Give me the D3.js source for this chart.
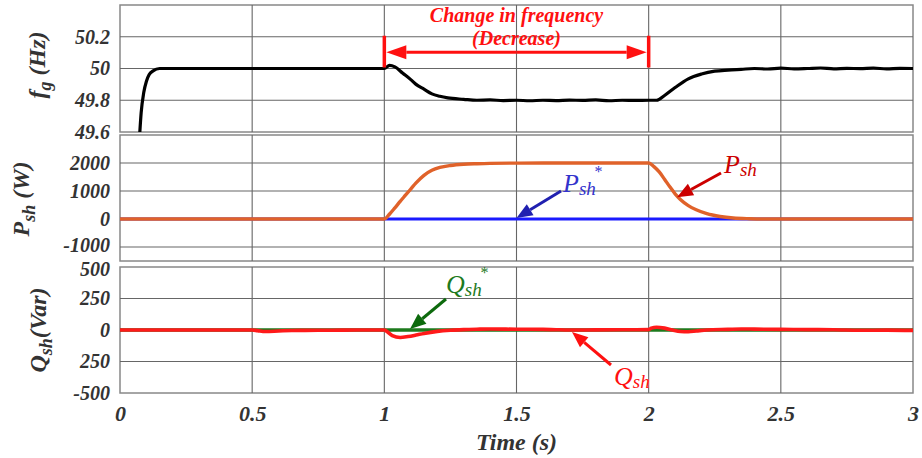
<!DOCTYPE html>
<html><head><meta charset="utf-8">
<script src="https://cdn.jsdelivr.net/npm/d3@7"></script>
<style>body{margin:0;background:#fff}svg{display:block}</style>
</head><body>
<svg id="c" width="922" height="458"></svg>
<script>
// ---------- data ----------
const timeTicks = [0, 0.5, 1, 1.5, 2, 2.5, 3];
const timeTickLabels = ["0", "0.5", "1", "1.5", "2", "2.5", "3"];
const freqTicks = [49.6, 49.8, 50, 50.2];
const freqTickLabels = ["49.6", "49.8", "50", "50.2"];
const powerTicks = [-1000, 0, 1000, 2000];
const powerTickLabels = ["-1000", "0", "1000", "2000"];
const qTicks = [-500, -250, 0, 250, 500];
const qTickLabels = ["-500", "250", "0", "250", "500"];

const freqT = [0.075,0.08,0.09,0.1,0.11,0.125,0.15,0.2,0.4,0.6,0.8,1.0,1.02,1.04,1.07,1.1,1.12,1.15,1.18,1.21,1.24,1.3,1.35,1.4,1.45,1.5,1.55,1.6,1.65,1.7,1.75,1.8,1.85,1.9,1.95,2.0,2.03,2.06,2.1,2.15,2.2,2.25,2.3,2.35,2.4,2.45,2.5,2.55,2.6,2.65,2.7,2.75,2.8,2.85,2.9,2.95,3.0];
const freqV = [49.6,49.72,49.85,49.92,49.96,49.985,50.0,50.0,50.0,50.0,50.0,50.0,50.02,50.01,49.97,49.93,49.9,49.87,49.84,49.825,49.815,49.806,49.8,49.802,49.798,49.8,49.797,49.8,49.798,49.801,49.799,49.802,49.797,49.8,49.799,49.8,49.8,49.83,49.88,49.935,49.965,49.983,49.99,49.995,50.0,49.997,50.002,49.998,50.0,50.003,49.998,50.001,49.999,50.002,49.998,50.001,50.0];

const pT = [0,1.0,1.02,1.04,1.06,1.08,1.1,1.12,1.15,1.18,1.21,1.25,1.3,1.35,1.4,1.5,1.6,1.8,2.0,2.02,2.04,2.06,2.08,2.1,2.12,2.15,2.18,2.22,2.27,2.32,2.38,2.45,3.0];
const pShV = [0,0,180,400,630,850,1070,1290,1560,1740,1840,1910,1955,1975,1988,1996,2000,2000,2000,1870,1680,1420,1150,900,700,480,330,190,90,35,10,0,0];
const pRefT = [0, 3];
const pRefV = [0, 0];

const qT = [0,0.5,0.52,0.55,0.6,0.65,0.7,0.8,0.9,1.0,1.01,1.03,1.06,1.09,1.12,1.15,1.2,1.25,1.3,1.35,1.4,1.5,1.6,1.65,1.7,1.8,1.9,2.0,2.01,2.03,2.06,2.09,2.12,2.15,2.18,2.22,2.3,2.35,2.4,2.5,2.6,2.7,2.8,2.9,3.0];
const qShV = [0,0,-5,-12,-8,-4,-3,-2,0,0,-12,-45,-60,-52,-40,-27,-11,-2,3,6,8,6,5,2,0,1,2,3,15,22,15,0,-12,-14,-8,0,5,8,7,5,3,2,-2,-1,-3];
const qRefT = [0, 3];
const qRefV = [0, 0];

// ---------- layout ----------
const svg = d3.select("#c");
const L = 120, R = 913;
const x = d3.scaleLinear().domain([0, 3]).range([L, R]);
const panels = [
  {domain:[49.6,50.4], top:5, bottom:132, ticks:freqTicks, labels:freqTickLabels},
  {domain:[-1500,3000], top:135, bottom:261, ticks:powerTicks, labels:powerTickLabels},
  {domain:[-500,500], top:267, bottom:393, ticks:qTicks, labels:qTickLabels}
];
panels.forEach(p => { p.y = d3.scaleLinear().domain(p.domain).range([p.bottom, p.top]); });

const serif = "Liberation Serif, Times New Roman, serif";
const tickColor = "#333";

panels.forEach((p, i) => {
  const g = svg.append("g");
  g.append("rect").attr("x", L).attr("y", p.top).attr("width", R - L).attr("height", p.bottom - p.top)
    .attr("fill", "#fff").attr("stroke", "#888").attr("stroke-width", 1.5);
  timeTicks.slice(1, -1).forEach(t => {
    g.append("line").attr("x1", x(t)).attr("x2", x(t)).attr("y1", p.top).attr("y2", p.bottom)
      .attr("stroke", "#666").attr("stroke-width", 1.1);
  });
  p.ticks.forEach(v => {
    const yy = p.y(v);
    if (yy > p.top + 1 && yy < p.bottom - 1)
      g.append("line").attr("x1", L).attr("x2", R).attr("y1", yy).attr("y2", yy)
        .attr("stroke", "#666").attr("stroke-width", 1.1);
  });
  const ax = d3.axisLeft(p.y).tickValues(p.ticks).tickSize(0).tickPadding(10)
    .tickFormat((d, k) => p.labels[k]);
  const ag = svg.append("g").attr("transform", `translate(${L},0)`).call(ax);
  ag.select(".domain").remove();
  ag.selectAll("text").attr("font-family", serif).attr("font-weight", "bold")
    .attr("font-style", "italic").attr("font-size", 20).attr("fill", tickColor);
  p.ag = ag;
});
// nudge the two crowded labels apart slightly (as in the original, they nearly touch)
panels[1].ag.selectAll("text").filter((d) => d === -1000).attr("dy", "0.22em");
panels[2].ag.selectAll("text").filter((d) => d === 500).attr("dy", "0.42em");

// x axis labels
const xa = d3.axisBottom(x).tickValues(timeTicks).tickSize(0).tickPadding(12)
  .tickFormat((d, k) => timeTickLabels[k]);
const xg = svg.append("g").attr("transform", `translate(0,${panels[2].bottom})`).call(xa);
xg.select(".domain").remove();
xg.selectAll("text").attr("font-family", serif).attr("font-weight", "bold")
  .attr("font-style", "italic").attr("font-size", 22).attr("fill", tickColor);

svg.append("text").attr("x", x(1.5)).attr("y", 450).attr("text-anchor", "middle")
  .attr("font-family", serif).attr("font-weight", "bold").attr("font-style", "italic")
  .attr("font-size", 24).attr("fill", tickColor).text("Time (s)");

// y titles
function yTitle(cx, cy, main, sub, unit) {
  const t = svg.append("text").attr("transform", `translate(${cx},${cy}) rotate(-90)`)
    .attr("text-anchor", "middle").attr("font-family", serif).attr("font-weight", "bold")
    .attr("font-style", "italic").attr("font-size", 24).attr("fill", tickColor);
  t.append("tspan").text(main);
  t.append("tspan").attr("font-size", 18).attr("dy", 6).text(sub);
  t.append("tspan").attr("dy", -6).text(unit);
}
yTitle(45, 65, "f", "g", " (Hz)");
yTitle(29, 199, "P", "sh", " (W)");
yTitle(46, 330, "Q", "sh", "(Var)");

// ---------- lines ----------
function clipFor(p, id) {
  svg.append("clipPath").attr("id", id).append("rect")
    .attr("x", L).attr("y", p.top).attr("width", R - L).attr("height", p.bottom - p.top);
}
clipFor(panels[0], "c0"); clipFor(panels[1], "c1"); clipFor(panels[2], "c2");

function drawLine(p, ts, vs, color, w, clip, curve) {
  const line = d3.line().x((d, i) => x(ts[i])).y((d, i) => p.y(vs[i])).curve(curve || d3.curveMonotoneX);
  svg.append("path").datum(vs).attr("d", line).attr("fill", "none").attr("stroke", color)
    .attr("stroke-width", w).attr("stroke-linejoin", "round").attr("clip-path", `url(#${clip})`);
}
drawLine(panels[0], freqT, freqV, "#000", 3.2, "c0");
drawLine(panels[1], pRefT, pRefV, "#1a1aff", 3.2, "c1", d3.curveLinear);
drawLine(panels[1], pT, pShV, "#e0622a", 3.4, "c1");
drawLine(panels[2], qRefT, qRefV, "#1d7a1d", 3.4, "c2", d3.curveLinear);
drawLine(panels[2], qT, qShV, "#ff1a1a", 3.6, "c2");

// ---------- annotations ----------
function arrow(x1, y1, x2, y2, color, w, hl, hw) {
  const a = Math.atan2(y2 - y1, x2 - x1);
  const bx = x2 - hl * Math.cos(a), by = y2 - hl * Math.sin(a);
  svg.append("line").attr("x1", x1).attr("y1", y1).attr("x2", bx).attr("y2", by)
    .attr("stroke", color).attr("stroke-width", w);
  const px = -Math.sin(a) * hw / 2, py = Math.cos(a) * hw / 2;
  svg.append("path").attr("d", `M${x2},${y2}L${bx + px},${by + py}L${bx - px},${by - py}Z`).attr("fill", color);
}
const red = "#ff1010";
const fP = panels[0];
const yArrow = fP.y(50.1) - 0.5;
[1, 2].forEach(t => svg.append("line").attr("x1", x(t)).attr("x2", x(t))
  .attr("y1", fP.y(50.2) - 1).attr("y2", fP.y(50) - 1).attr("stroke", red).attr("stroke-width", 3.5));
const midX = (x(1) + x(2)) / 2;
arrow(midX, yArrow, x(1) + 2, yArrow, red, 3, 20, 14);
arrow(midX, yArrow, x(2) - 2, yArrow, red, 3, 20, 14);
svg.append("text").attr("x", x(1.5)).attr("y", 22).attr("text-anchor", "middle")
  .attr("font-family", serif).attr("font-weight", "bold").attr("font-style", "italic")
  .attr("font-size", 20).attr("fill", red).text("Change in frequency");
svg.append("text").attr("x", x(1.5)).attr("y", 45).attr("text-anchor", "middle")
  .attr("font-family", serif).attr("font-weight", "bold").attr("font-style", "italic")
  .attr("font-size", 20).attr("fill", red).text("(Decrease)");

function label(xx, yy, main, sub, sup, color) {
  const t = svg.append("text").attr("x", xx).attr("y", yy).attr("font-family", serif)
    .attr("font-style", "italic").attr("font-size", 26).attr("fill", color);
  t.append("tspan").text(main);
  t.append("tspan").attr("font-size", 19).attr("dy", 3).text(sub);
  if (sup) t.append("tspan").attr("font-size", 16).attr("dy", -18).attr("dx", -2).text(sup);
}
const pP = panels[1], qP = panels[2];
label(563, 192, "P", "sh", "*", "#3333cc");
arrow(561, 191, x(1.5), pP.y(0) - 1, "#2020b0", 3, 16, 13);
label(724, 173, "P", "sh", null, "#cc0000");
arrow(721, 173, 677, pP.y(780), "#cc0000", 3, 16, 13);
label(446, 293, "Q", "sh", "*", "#1d7a1d");
arrow(446, 299, 410, qP.y(0) - 1, "#0d6a0d", 3, 16, 13);
label(614, 385, "Q", "sh", null, red);
arrow(611, 365, 572, qP.y(0) + 2, red, 3, 16, 13);
</script>
</body></html>
